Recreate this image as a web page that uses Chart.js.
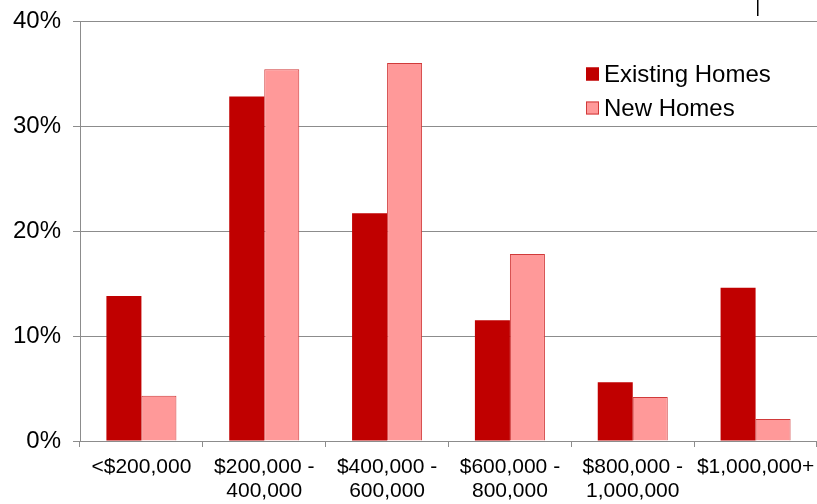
<!DOCTYPE html>
<html>
<head>
<meta charset="utf-8">
<script src="https://cdn.jsdelivr.net/npm/chart.js@4/dist/chart.umd.min.js"></script>
<style>
  html, body { margin: 0; padding: 0; background: #fff; }
  #wrap { width: 817px; height: 504px; position: relative; }
</style>
</head>
<body>
<div id="wrap"><canvas id="c" width="817" height="504"></canvas></div>
<script>
// Price bands
const categories = [
  '<$200,000',
  ['$200,000 -', '400,000'],
  ['$400,000 -', '600,000'],
  ['$600,000 -', '800,000'],
  ['$800,000 -', '1,000,000'],
  '$1,000,000+'
];
// Share of sales in each band (%)
const existingHomes = [13.8, 32.8, 21.7, 11.5, 5.6, 14.6];
const newHomes = [4.3, 35.4, 36.0, 17.8, 4.2, 2.1];
const seriesNames = ['Existing Homes', 'New Homes'];
const yTicks = [0, 10, 20, 30, 40];

const FONT = '"Liberation Sans", Arial, Helvetica, sans-serif';
const GRID = '#8c8c8c';

// Legend drawn inside the plot, upper right
const innerLegend = {
  id: 'innerLegend',
  afterDraw(chart) {
    const ctx = chart.ctx;
    ctx.save();
    ctx.font = '24px ' + FONT;
    ctx.textBaseline = 'middle';
    ctx.textAlign = 'left';
    chart.data.datasets.forEach((ds, i) => {
      const y = 74 + i * 34;
      ctx.fillStyle = ds.backgroundColor;
      ctx.fillRect(586, y - 6.5, 13, 13);
      ctx.strokeStyle = ds.borderColor;
      ctx.lineWidth = 1;
      ctx.strokeRect(586.5, y - 6, 12, 12);
      ctx.fillStyle = '#000';
      ctx.fillText(ds.label, 604, y + 1);
    });
    // small marker stroke at the top edge
    ctx.fillStyle = '#000';
    ctx.fillRect(757, 0, 1.5, 16);
    ctx.restore();
  }
};

new Chart(document.getElementById('c'), {
  type: 'bar',
  data: {
    labels: categories,
    datasets: [
      {
        label: seriesNames[0],
        data: existingHomes,
        backgroundColor: '#C00000',
        borderColor: '#C00000',
        borderWidth: 0,
        categoryPercentage: 0.57,
        barPercentage: 1.0
      },
      {
        label: seriesNames[1],
        data: newHomes,
        backgroundColor: '#FF9999',
        borderColor: '#D03A3A',
        borderWidth: 1,
        categoryPercentage: 0.57,
        barPercentage: 1.0
      }
    ]
  },
  options: {
    responsive: false,
    animation: false,
    devicePixelRatio: 1,
    layout: { padding: { top: 21, right: 0, left: 0, bottom: 0 } },
    plugins: {
      legend: { display: false },
      tooltip: { enabled: false }
    },
    scales: {
      x: {
        offset: true,
        grid: {
          display: true,
          drawOnChartArea: false,
          drawTicks: true,
          tickLength: 6,
          color: GRID,
          offset: true
        },
        border: { display: true, color: GRID, width: 1 },
        ticks: {
          color: '#000',
          font: { family: FONT, size: 21, lineHeight: 1.15 },
          padding: 8,
          maxRotation: 0,
          autoSkip: false
        },
        afterFit(scale) {
          scale.height = 63;
          scale.paddingLeft = 0;
          scale.paddingRight = 0;
        }
      },
      y: {
        min: 0,
        max: 40,
        afterBuildTicks(scale) {
          scale.ticks = yTicks.map(v => ({ value: v }));
        },
        grid: {
          color: GRID,
          lineWidth: 1,
          drawTicks: true,
          tickLength: 7
        },
        border: { display: true, color: GRID, width: 1 },
        ticks: {
          color: '#000',
          font: { family: FONT, size: 24 },
          padding: 12,
          callback: v => v + '%'
        },
        afterFit(scale) {
          scale.width = 80;
          scale.paddingTop = 0;
          scale.paddingBottom = 0;
        }
      }
    }
  },
  plugins: [innerLegend]
});
</script>
</body>
</html>
